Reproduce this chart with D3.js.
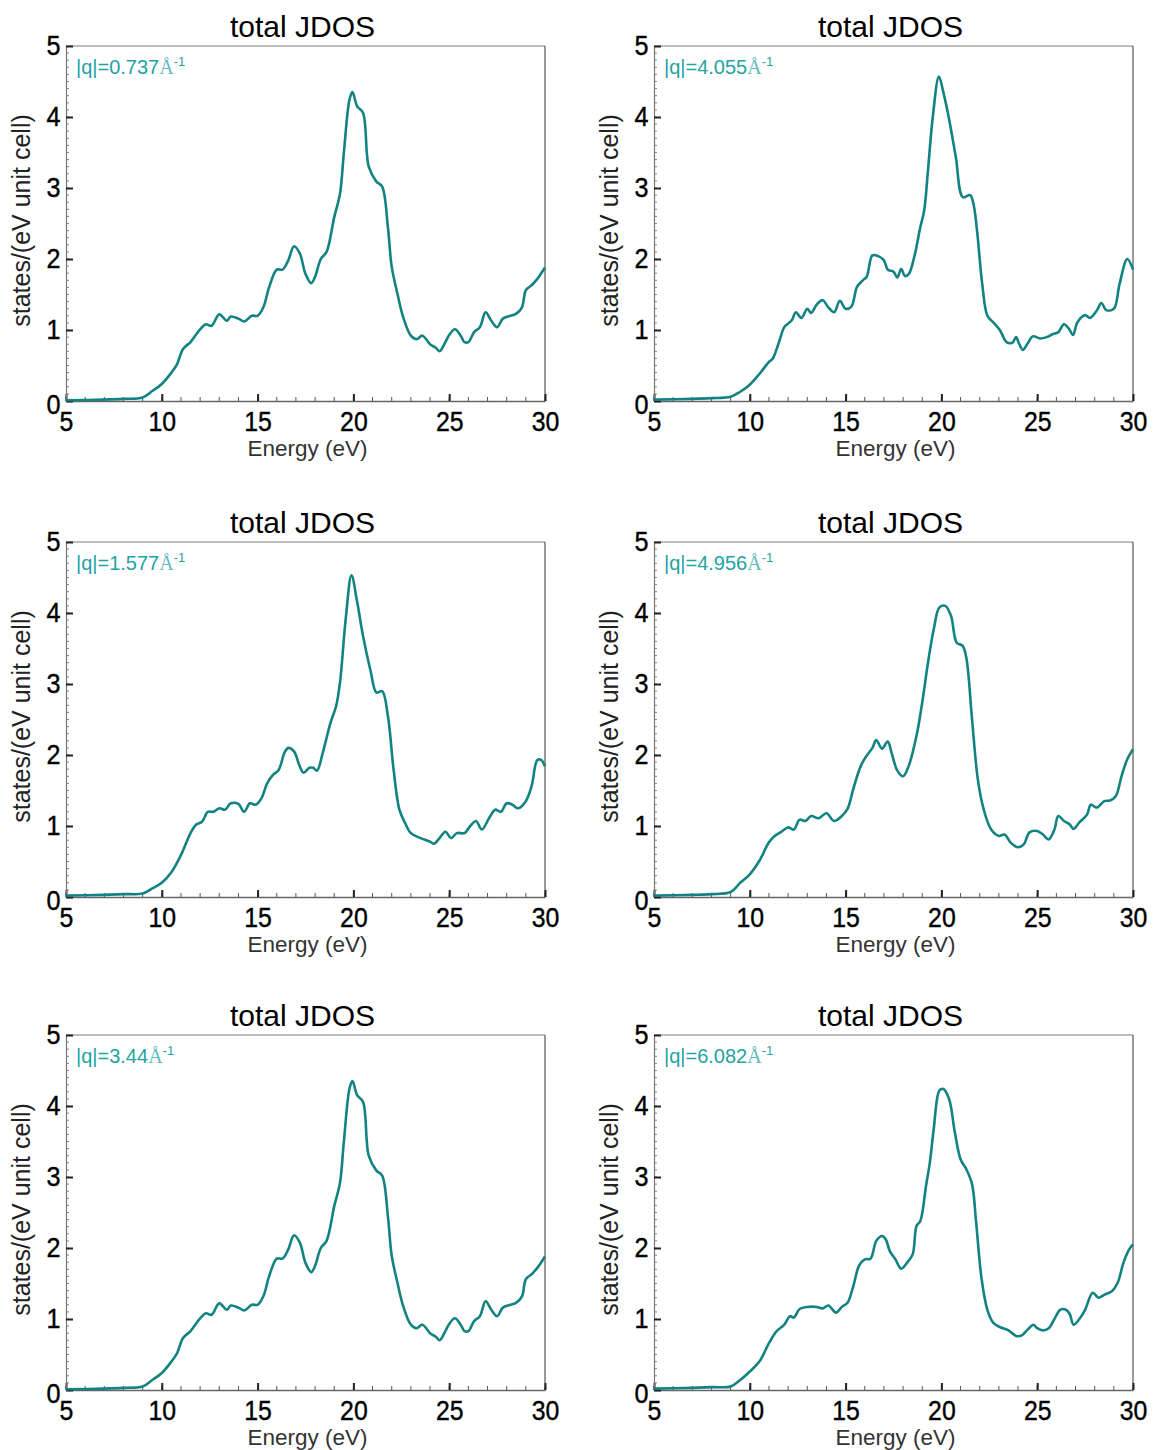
<!DOCTYPE html>
<html>
<head>
<meta charset="utf-8">
<script src="https://cdn.jsdelivr.net/npm/d3@7"></script>
<style>
  body { margin: 0; background: #fff; }
  text { font-family: "Liberation Sans", Arial, sans-serif; }
</style>
</head>
<body>
<script>
// energies (eV) and JDOS values
var e_0737 = [5, 7, 8, 9, 9.5, 10, 10.5, 10.8, 11.1, 11.5, 12, 12.3, 12.6, 13, 13.4, 13.6, 14, 14.3, 14.7, 15, 15.3, 15.6, 16, 16.3, 16.6, 16.9, 17.2, 17.5, 17.8, 18, 18.3, 18.6, 19, 19.3, 19.5, 19.8, 19.95, 20.2, 20.5, 20.8, 21.2, 21.5, 21.8, 22, 22.3, 22.6, 23, 23.3, 23.6, 24, 24.3, 24.5, 24.8, 25, 25.3, 25.6, 25.8, 26, 26.3, 26.6, 26.9, 27.2, 27.5, 27.8, 28.2, 28.5, 28.8, 29, 29.3, 29.6, 30];
var v_0737 = [0.01, 0.02, 0.03, 0.05, 0.14, 0.24, 0.40, 0.52, 0.73, 0.83, 1.01, 1.08, 1.06, 1.22, 1.13, 1.19, 1.16, 1.12, 1.20, 1.20, 1.32, 1.60, 1.85, 1.85, 1.98, 2.18, 2.08, 1.79, 1.66, 1.75, 2.0, 2.10, 2.59, 2.92, 3.49, 4.25, 4.35, 4.15, 4.06, 3.30, 3.09, 3.02, 2.45, 1.89, 1.51, 1.18, 0.92, 0.87, 0.92, 0.80, 0.75, 0.70, 0.83, 0.93, 1.01, 0.92, 0.83, 0.83, 0.97, 1.04, 1.25, 1.13, 1.04, 1.16, 1.20, 1.23, 1.32, 1.56, 1.63, 1.72, 1.88];

var e_4055 = [5, 7, 8, 9, 9.5, 10, 10.5, 11, 11.2, 11.5, 11.8, 12, 12.2, 12.4, 12.7, 13, 13.2, 13.5, 13.8, 14.1, 14.4, 14.7, 15, 15.3, 15.6, 15.9, 16.1, 16.4, 16.7, 17, 17.2, 17.5, 17.7, 17.9, 18.1, 18.3, 18.6, 18.9, 19.1, 19.3, 19.55, 19.87, 20.1, 20.38, 20.75, 21.12, 21.5, 21.67, 21.86, 22.13, 22.4, 22.7, 23.05, 23.4, 23.7, 23.9, 24.05, 24.25, 24.5, 24.77, 25.17, 25.5, 25.8, 26.1, 26.4, 26.65, 26.87, 27.1, 27.5, 27.75, 28.1, 28.35, 28.6, 29.0, 29.3, 29.7, 30];
var v_4055 = [0.02, 0.03, 0.04, 0.06, 0.13, 0.23, 0.38, 0.55, 0.60, 0.81, 1.04, 1.09, 1.14, 1.25, 1.17, 1.30, 1.24, 1.36, 1.42, 1.32, 1.25, 1.41, 1.30, 1.33, 1.61, 1.70, 1.75, 2.05, 2.04, 1.98, 1.85, 1.82, 1.74, 1.86, 1.76, 1.79, 2.05, 2.45, 2.68, 3.25, 4.0, 4.57, 4.35, 4.0, 3.44, 2.87, 2.90, 2.78, 2.40, 1.65, 1.20, 1.11, 1.0, 0.83, 0.82, 0.90, 0.81, 0.72, 0.81, 0.91, 0.88, 0.90, 0.94, 0.97, 1.08, 1.02, 0.93, 1.11, 1.21, 1.17, 1.27, 1.38, 1.28, 1.30, 1.65, 2.0, 1.85];

var e_1577 = [5, 7, 8, 9, 9.5, 10, 10.5, 11, 11.5, 11.8, 12.1, 12.4, 12.7, 13, 13.3, 13.6, 14, 14.3, 14.6, 14.9, 15.2, 15.5, 15.8, 16.1, 16.4, 16.6, 16.9, 17.2, 17.4, 17.7, 17.9, 18.1, 18.4, 18.8, 19.1, 19.3, 19.6, 19.9, 20.2, 20.5, 20.9, 21.2, 21.5, 21.8, 22.1, 22.4, 22.7, 23, 23.5, 24, 24.2, 24.5, 24.8, 25.1, 25.4, 25.8, 26.1, 26.4, 26.7, 27.1, 27.4, 27.7, 28, 28.3, 28.6, 29, 29.3, 29.6, 29.8, 30];
var v_1577 = [0.02, 0.03, 0.04, 0.05, 0.12, 0.20, 0.35, 0.59, 0.90, 1.02, 1.06, 1.20, 1.20, 1.25, 1.23, 1.32, 1.31, 1.20, 1.32, 1.30, 1.39, 1.60, 1.72, 1.79, 2.03, 2.10, 2.05, 1.84, 1.75, 1.82, 1.82, 1.78, 2.03, 2.45, 2.69, 3.02, 3.92, 4.53, 4.15, 3.68, 3.18, 2.88, 2.90, 2.55, 1.79, 1.23, 1.04, 0.90, 0.83, 0.78, 0.75, 0.83, 0.92, 0.83, 0.90, 0.90, 1.0, 1.07, 0.95, 1.12, 1.23, 1.20, 1.32, 1.30, 1.25, 1.35, 1.56, 1.93, 1.93, 1.84];

var e_4956 = [5, 7, 8, 9, 9.5, 10, 10.5, 11, 11.3, 11.6, 12, 12.3, 12.6, 12.9, 13.2, 13.6, 14, 14.4, 14.8, 15.1, 15.4, 15.8, 16.1, 16.4, 16.6, 16.9, 17.2, 17.4, 17.7, 18, 18.3, 18.7, 19, 19.3, 19.6, 19.9, 20.2, 20.5, 20.8, 21.1, 21.3, 21.6, 21.9, 22.2, 22.6, 23, 23.3, 23.6, 24, 24.3, 24.6, 25, 25.3, 25.6, 25.9, 26.1, 26.4, 26.7, 26.9, 27.2, 27.6, 27.8, 28.1, 28.5, 28.8, 29.1, 29.4, 29.7, 30];
var v_4956 = [0.02, 0.03, 0.04, 0.07, 0.20, 0.32, 0.51, 0.77, 0.86, 0.91, 0.98, 0.95, 1.09, 1.07, 1.14, 1.11, 1.18, 1.07, 1.14, 1.24, 1.52, 1.85, 1.99, 2.10, 2.21, 2.09, 2.19, 2.03, 1.78, 1.70, 1.85, 2.27, 2.74, 3.30, 3.77, 4.08, 4.10, 3.96, 3.58, 3.54, 3.37, 2.50, 1.66, 1.24, 0.95, 0.86, 0.88, 0.77, 0.70, 0.74, 0.91, 0.93, 0.88, 0.81, 0.95, 1.14, 1.07, 1.02, 0.96, 1.05, 1.16, 1.30, 1.26, 1.35, 1.36, 1.42, 1.70, 1.94, 2.08];

var e_344 = e_0737.slice();
var v_344 = [0.01, 0.02, 0.03, 0.05, 0.14, 0.24, 0.40, 0.52, 0.73, 0.83, 1.01, 1.08, 1.06, 1.22, 1.13, 1.19, 1.16, 1.12, 1.20, 1.20, 1.32, 1.60, 1.85, 1.85, 1.98, 2.18, 2.08, 1.79, 1.66, 1.75, 2.0, 2.10, 2.59, 2.92, 3.49, 4.25, 4.35, 4.15, 4.06, 3.30, 3.09, 3.02, 2.45, 1.89, 1.51, 1.18, 0.92, 0.87, 0.92, 0.80, 0.75, 0.70, 0.83, 0.93, 1.01, 0.92, 0.83, 0.83, 0.97, 1.04, 1.25, 1.13, 1.04, 1.16, 1.20, 1.23, 1.32, 1.56, 1.63, 1.72, 1.88];

var e_6082 = [5, 7, 8, 9, 9.5, 10, 10.5, 11, 11.4, 11.8, 12.1, 12.3, 12.6, 13, 13.5, 13.8, 14.1, 14.5, 14.8, 15.1, 15.4, 15.7, 16, 16.3, 16.6, 16.9, 17.1, 17.3, 17.6, 17.9, 18.2, 18.5, 18.7, 18.9, 19.2, 19.4, 19.6, 19.9, 20.1, 20.4, 20.7, 21, 21.3, 21.6, 21.8, 22.1, 22.4, 22.7, 23.1, 23.5, 23.9, 24.2, 24.5, 24.8, 25, 25.3, 25.6, 25.9, 26.2, 26.5, 26.7, 26.9, 27.2, 27.5, 27.9, 28.2, 28.5, 28.9, 29.2, 29.5, 29.8, 30];
var v_6082 = [0.02, 0.03, 0.04, 0.05, 0.14, 0.26, 0.40, 0.66, 0.83, 0.92, 1.04, 1.02, 1.14, 1.17, 1.17, 1.15, 1.19, 1.09, 1.17, 1.23, 1.46, 1.75, 1.84, 1.85, 2.10, 2.17, 2.12, 1.96, 1.84, 1.71, 1.79, 1.91, 2.31, 2.38, 2.88, 3.21, 3.68, 4.22, 4.24, 4.10, 3.63, 3.25, 3.11, 2.90, 2.40, 1.56, 1.13, 0.95, 0.88, 0.84, 0.76, 0.77, 0.85, 0.92, 0.87, 0.84, 0.87, 1.0, 1.13, 1.13, 1.07, 0.92, 1.0, 1.13, 1.37, 1.30, 1.34, 1.39, 1.51, 1.79, 1.98, 2.05];

var qLabels = ["0.737", "4.055", "1.577", "4.956", "3.44", "6.082"];
var energies = [e_0737, e_4055, e_1577, e_4956, e_344, e_6082];
var values = [v_0737, v_4055, v_1577, v_4956, v_344, v_6082];

var xTicks = [5, 10, 15, 20, 25, 30];
var yTicks = [0, 1, 2, 3, 4, 5];

var W = 1153, H = 1450;
var colX = [66, 654];
var rowY = [46, 542, 1035];
var pw = 479, ph = 355;

var lineColor = "#128282";
var labelColor = "#1fa3a3";

var svg = d3.select("body").append("svg")
    .attr("width", W)
    .attr("height", H);

var x = d3.scaleLinear().domain([5, 30]).range([0, pw]);
var y = d3.scaleLinear().domain([0, 5]).range([ph, 0]);

var line = d3.line()
    .x(function(d) { return x(d[0]); })
    .y(function(d) { return y(d[1]); })
    .curve(d3.curveCatmullRom.alpha(0.5));

qLabels.forEach(function(q, i) {
    var col = i % 2, row = Math.floor(i / 2);
    var g = svg.append("g")
        .attr("transform", "translate(" + colX[col] + "," + rowY[row] + ")");

    // frame (top and right are thin grey)
    g.append("line").attr("x1", 0).attr("x2", pw).attr("y1", 0).attr("y2", 0)
        .attr("stroke", "#7a7a7a").attr("stroke-width", 1);
    g.append("line").attr("x1", pw).attr("x2", pw).attr("y1", 0).attr("y2", ph)
        .attr("stroke", "#555").attr("stroke-width", 1.2);

    // minor ticks
    g.selectAll(".xminor").data(d3.range(5, 31, 1)).enter().append("line")
        .attr("x1", function(d) { return x(d); }).attr("x2", function(d) { return x(d); })
        .attr("y1", ph).attr("y2", ph - 4)
        .attr("stroke", "#555").attr("stroke-width", 1);
    g.selectAll(".yminor").data(d3.range(0, 50, 1)).enter().append("line")
        .attr("x1", 0).attr("x2", 3)
        .attr("y1", function(d) { return y(d / 10); }).attr("y2", function(d) { return y(d / 10); })
        .attr("stroke", "#666").attr("stroke-width", 0.8);

    // axes with inward major ticks
    var xAxis = g.append("g").attr("transform", "translate(0," + ph + ")")
        .call(d3.axisBottom(x).tickValues(xTicks).tickSizeInner(-7).tickSizeOuter(0).tickPadding(8));
    var yAxis = g.append("g")
        .call(d3.axisLeft(y).tickValues(yTicks).tickFormat(d3.format("d")).tickSizeInner(-7).tickSizeOuter(0).tickPadding(6));

    xAxis.select(".domain").attr("stroke", "#666").attr("stroke-width", 1.5);
    yAxis.select(".domain").attr("stroke", "#777").attr("stroke-width", 1.2);
    xAxis.selectAll(".tick line").attr("stroke", "#222").attr("stroke-width", 2);
    yAxis.selectAll(".tick line").attr("stroke", "#222").attr("stroke-width", 2);
    xAxis.selectAll("text").attr("font-size", 27).attr("fill", "#000")
        .attr("stroke", "#000").attr("stroke-width", 0.4)
        .attr("font-family", "Liberation Sans, Arial, sans-serif")
        .attr("transform", "scale(0.92,1)")
        .attr("dy", "0.8em");
    yAxis.selectAll("text").attr("font-size", 28).attr("fill", "#000")
        .attr("stroke", "#000").attr("stroke-width", 0.4)
        .attr("font-family", "Liberation Sans, Arial, sans-serif")
        .attr("transform", "scale(0.9,1)");
    yAxis.selectAll(".tick").filter(function(d) { return d === 0; }).select("text").attr("dy", "0.44em");

    // curve
    var pts = energies[i].map(function(e, k) { return [e, values[i][k]]; });
    g.append("path")
        .datum(pts)
        .attr("d", line)
        .attr("fill", "none")
        .attr("stroke", lineColor)
        .attr("stroke-width", 2.6)
        .attr("stroke-linejoin", "round");

    // title
    g.append("text")
        .attr("x", pw / 2 - 3).attr("y", -9)
        .attr("text-anchor", "middle")
        .attr("font-size", 30)
        .attr("fill", "#000")
        .text("total JDOS");

    // x label
    g.append("text")
        .attr("x", pw / 2 + 2).attr("y", ph + 55)
        .attr("text-anchor", "middle")
        .attr("font-size", 22.5)
        .attr("fill", "#333")
        .text("Energy (eV)");

    // y label
    g.append("text")
        .attr("transform", "translate(" + (-36) + "," + (ph / 2 - 3) + ") rotate(-90)")
        .attr("text-anchor", "middle")
        .attr("font-size", 25)
        .attr("fill", "#222")
        .text("states/(eV unit cell)");

    // q label
    var t = g.append("text")
        .attr("x", 10).attr("y", 28)
        .attr("font-size", 20)
        .attr("fill", labelColor);
    t.append("tspan").text("|q|=" + q);
    t.append("tspan").attr("font-family", "Liberation Serif, Times New Roman, serif")
        .attr("fill", "#5fbcbc").text("Å");
    t.append("tspan").attr("font-size", 13).attr("dy", -8).text("-1");
});
</script>
</body>
</html>
